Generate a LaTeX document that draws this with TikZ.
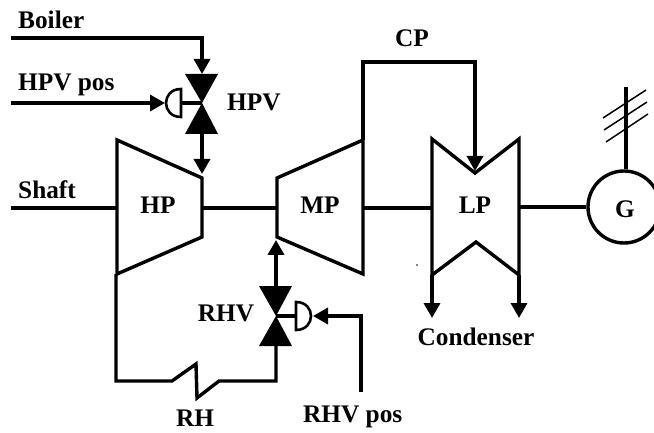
\documentclass[tikz,border=0pt]{standalone}
\usepackage{fontspec}
\setmainfont{Liberation Serif}
\usetikzlibrary{arrows.meta}
\tikzset{
  x=1pt,y=-1pt,
  wire/.style={line width=3.4pt,line join=miter},
  flow/.style={wire,-{Triangle[length=15pt,width=16pt]},shorten >=0pt},
  solid tri/.style={fill=black,draw=none},
  label/.style={font=\fontsize{25.3}{28}\selectfont\bfseries,inner sep=0pt,text=black},
  tick/.style={line width=1.5pt},
}
\begin{document}
\begin{tikzpicture}
\useasboundingbox[fill=white] (0,0) rectangle (654,433);
% named points
\coordinate (boilerS) at (11,38);
\coordinate (boilerC) at (202,38);
\coordinate (hpvT) at (202,74);
\coordinate (hpvM) at (202,103);
\coordinate (hpvB) at (202,134);
\coordinate (hpIn) at (202,174);
\coordinate (hpvposS) at (11,103);
\coordinate (hpvAct) at (165,103);
\coordinate (hpvActF) at (181,103);
\coordinate (shaftS) at (11,208);
\coordinate (hpL) at (117,208);
\coordinate (hpR) at (202,208);
\coordinate (mpL) at (277,208);
\coordinate (mpR) at (363,208);
\coordinate (lpL) at (432,208);
\coordinate (lpR) at (519,207);
\coordinate (gen) at (624,207);
\coordinate (hpBot) at (116,274);
\coordinate (rhC1) at (116,381);
\coordinate (rhA) at (172,381);
\coordinate (rhB) at (196,364);
\coordinate (rhD) at (197,398);
\coordinate (rhE) at (219,381);
\coordinate (rhC2) at (276,381);
\coordinate (rhvB) at (276,346);
\coordinate (rhvM) at (276,316);
\coordinate (rhvT) at (276,286);
\coordinate (mpIn) at (276,240);
\coordinate (rhvposS) at (361,392);
\coordinate (rhvposC) at (361,316);
\coordinate (rhvAct) at (313,316);
\coordinate (rhvActF) at (296,316);
\coordinate (cpS) at (363,140);
\coordinate (cpA) at (363,62);
\coordinate (cpB) at (475,62);
\coordinate (lpIn) at (475,171);
\coordinate (lpBL) at (432,275);
\coordinate (lpBR) at (519,275);
\coordinate (condL) at (432,318);
\coordinate (condR) at (519,318);
\coordinate (gridT) at (626,87);
% turbines
\draw[wire] (117,140) -- (117,274) -- (202,237) -- (202,178) -- cycle;
\draw[wire] (277,178) -- (277,237) -- (363,274) -- (363,140) -- cycle;
\draw[wire] (432,139) -- (475,173) -- (519,139) -- (519,275) -- (476,242) -- (432,275) -- cycle;
% generator (runs past the right edge as in the reference)
\node[draw,circle,line width=3.4pt,minimum size=72pt,inner sep=0pt] (G) at (gen) {};
% shafts
\draw[wire] (shaftS) -- (hpL);
\draw[wire] (hpR) -- (mpL);
\draw[wire] (mpR) -- (lpL);
\draw[wire] (lpR) -- (G.west);
% steam lines
\draw[flow] (boilerS) -- (boilerC) -- (hpvT);
\draw[flow] (hpvB) -- (hpIn);
\draw[flow] (hpvposS) -- (hpvAct);
\draw[wire] (hpBot) -- (rhC1) -- (rhA) -- (rhB) -- (rhD) -- (rhE) -- (rhC2) -- (rhvB);
\draw[flow] (rhvT) -- (mpIn);
\draw[flow] (rhvposS) -- (rhvposC) -- (rhvAct);
\draw[flow] (cpS) -- (cpA) -- (cpB) -- (lpIn);
\draw[flow] (lpBL) -- (condL);
\draw[flow] (lpBR) -- (condR);
% HPV valve
\fill[solid tri] (185,74) -- (218,74) -- (hpvM) -- cycle;
\fill[solid tri] (185,134) -- (218,134) -- (hpvM) -- cycle;
\draw[wire] (hpvActF) -- (hpvM);
\draw[wire,line width=2.6pt] (181,89) .. controls (161,89) and (161,117) .. (181,117) -- cycle;
% RHV valve
\fill[solid tri] (259,286) -- (292,286) -- (rhvM) -- cycle;
\fill[solid tri] (259,346) -- (292,346) -- (rhvM) -- cycle;
\draw[wire] (rhvActF) -- (rhvM);
\draw[wire,line width=2.6pt] (296,302) .. controls (316,302) and (316,330) .. (296,330) -- cycle;
% grid
\draw[wire] (G.north -| gridT) -- (gridT);
\draw[tick] (603,118) -- (646,90);
\draw[tick] (604,130) -- (647,102);
\draw[tick] (606,142) -- (648,114);
% speck
\fill (417,265) circle (0.8);
% labels
\node[label,anchor=west] (tBoiler) at (18,20) {Boiler};
\node[label,anchor=west] (tHPVpos) at (18,85) {HPV pos};
\node[label,anchor=west] (tHPV) at (227,102) {HPV};
\node[label,anchor=west] (tShaft) at (18,190) {Shaft};
\node[label] (tHP) at (158,205) {HP};
\node[label] (tMP) at (320,205) {MP};
\node[label] (tLP) at (475,205) {LP};
\node[label] (tG) at (625,209) {G};
\node[label] (tCP) at (412,38) {CP};
\node[label] (tRHV) at (226,313) {RHV};
\node[label] (tRH) at (195,418) {RH};
\node[label,anchor=west] (tRHVpos) at (303,417) {RHV pos};
\node[label] (tCond) at (476,337) {Condenser};
\end{tikzpicture}
\end{document}
